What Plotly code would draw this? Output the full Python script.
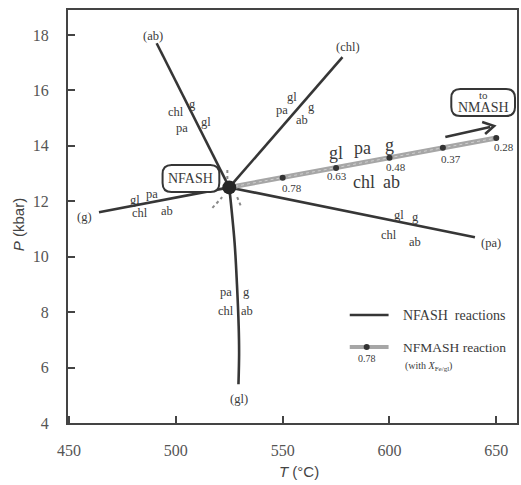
import plotly.graph_objects as go

# ---------------- data ----------------
inv_T, inv_P = 525.0, 12.5

ab_T = [525, 491];   ab_P = [12.5, 17.7]
chl_T = [525, 578];  chl_P = [12.5, 17.2]
g_T = [525, 464];    g_P = [12.5, 11.6]
pa_T = [525, 640];   pa_P = [12.5, 10.7]
gl_T = [525, 527.5, 528.6, 529.4, 529.6, 529.3]
gl_P = [12.5, 10.5, 9.0, 7.5, 6.5, 5.4]

nfmash_T = [525, 550, 575, 600, 625, 650]
nfmash_P = [12.5, 12.85, 13.2, 13.57, 13.93, 14.28]
x_fe = ["0.78", "0.63", "0.48", "0.37", "0.28"]

# metastable extensions around the invariant point
ext_up_T = [524.1, 524.1];  ext_up_P = [13.13, 12.72]
ext_ll_T = [517.1, 521.7];  ext_ll_P = [11.76, 12.15]
ext_lr_T = [528.7, 530.6];  ext_lr_P = [12.15, 11.79]

x_ticks = [450, 500, 550, 600, 650]
y_ticks = [4, 6, 8, 10, 12, 14, 16, 18]

# ---------------- layout helpers ----------------
W, H = 521, 485
L, R, T_, B = 68, 519, 10, 423
XR = [449.5, 659.7]
YR = [4.0, 18.9]

def to_data(px, py):
    return (XR[0] + (px - L) * (XR[1] - XR[0]) / (R - L),
            YR[0] + (B - py) * (YR[1] - YR[0]) / (B - T_))

def to_paper(px, py):
    return ((px - L) / (R - L), (B - py) / (B - T_))

LINE = "#363636"
TXT = "#3a3a3a"
SERIF = "Liberation Serif"
SANS = "Liberation Sans"

fig = go.Figure()

for xs, ys in [(ab_T, ab_P), (chl_T, chl_P), (g_T, g_P), (pa_T, pa_P)]:
    fig.add_trace(go.Scatter(x=xs, y=ys, mode="lines",
                             line=dict(color=LINE, width=2.6), showlegend=False,
                             hoverinfo="skip"))
fig.add_trace(go.Scatter(x=gl_T, y=gl_P, mode="lines",
                         line=dict(color=LINE, width=2.6, shape="spline"),
                         showlegend=False, hoverinfo="skip"))

for xs, ys in [(ext_up_T, ext_up_P), (ext_ll_T, ext_ll_P), (ext_lr_T, ext_lr_P)]:
    fig.add_trace(go.Scatter(x=xs, y=ys, mode="lines",
                             line=dict(color="#8a8a8a", width=2, dash="dot"),
                             showlegend=False, hoverinfo="skip"))

# NFMASH reaction
fig.add_trace(go.Scatter(x=nfmash_T, y=nfmash_P, mode="lines",
                         line=dict(color="#a6a6a6", width=5),
                         showlegend=False, hoverinfo="skip"))
fig.add_trace(go.Scatter(x=nfmash_T, y=nfmash_P, mode="lines",
                         line=dict(color="#d0d0d0", width=1, dash="dot"),
                         showlegend=False, hoverinfo="skip"))
fig.add_trace(go.Scatter(x=nfmash_T[1:], y=nfmash_P[1:], mode="markers",
                         marker=dict(color="#333333", size=6),
                         showlegend=False, hoverinfo="skip"))
# invariant point
fig.add_trace(go.Scatter(x=[inv_T], y=[inv_P], mode="markers",
                         marker=dict(color="#262626", size=14),
                         showlegend=False, hoverinfo="skip"))

ann = []
# X_Fe labels under the dots
shifts = [(9, -10), (1, -8), (7, -9), (8, -11), (8, -9)]
for t, p, lab, (dx, dy) in zip(nfmash_T[1:], nfmash_P[1:], x_fe, shifts):
    ann.append(dict(x=t, y=p, text=lab, showarrow=False, xshift=dx, yshift=dy,
                    font=dict(family=SERIF, size=11, color=TXT)))

# phase labels: (text, px, py, size)
labels = [
    ("(ab)", 153, 36, 12.5), ("chl", 176, 112, 12.5), ("g", 193, 104, 12.5),
    ("pa", 183, 128, 12.5), ("gl", 207, 122, 12.5),
    ("(g)", 85, 217, 12.5), ("gl", 135, 200, 12.5), ("pa", 152, 194, 12.5),
    ("chl", 140, 213, 12.5), ("ab", 167, 211, 12.5),
    ("(chl)", 349, 47, 12.5), ("gl", 293, 97, 12.5), ("pa", 283, 110, 12.5),
    ("g", 313, 107, 12.5), ("ab", 303, 120, 12.5),
    ("gl", 400, 215, 12.5), ("g", 417, 217, 12.5), ("chl", 390, 235, 12.5),
    ("ab", 417, 242, 12.5), ("(pa)", 493, 243, 12.5),
    ("pa", 227, 292, 12.5), ("g", 247, 292, 12.5), ("chl", 227, 311, 12.5),
    ("ab", 248, 311, 12.5), ("(gl)", 240, 399, 12.5),
    ("gl", 337, 153, 18), ("pa", 364, 148, 18), ("g", 391, 145, 18),
    ("chl", 365, 182, 18), ("ab", 393, 182, 18),
]
for text, px, py, sz in labels:
    xd, yd = to_data(px, py)
    ann.append(dict(x=xd, y=yd, text=text, showarrow=False,
                    font=dict(family=SERIF, size=sz, color=TXT)))

# boxes text
xd, yd = to_data(191, 178)
ann.append(dict(x=xd, y=yd, text="NFASH", showarrow=False,
                font=dict(family=SERIF, size=14, color=TXT)))
xd, yd = to_data(485, 95)
ann.append(dict(x=xd, y=yd, text="to", showarrow=False,
                font=dict(family=SERIF, size=11, color=TXT)))
xd, yd = to_data(485, 107)
ann.append(dict(x=xd, y=yd, text="NMASH", showarrow=False,
                font=dict(family=SERIF, size=14, color=TXT)))

# legend text
for text, px, py, sz in [("NFASH&nbsp;&nbsp;reactions", 402, 315, 14),
                         ("NFMASH reaction", 402, 347, 13.5),
                         ("(with <i>X</i><sub>Fe/gl</sub>)", 404, 366, 10)]:
    xp, yp = to_paper(px, py)
    ann.append(dict(x=xp, y=yp, xref="paper", yref="paper", xanchor="left",
                    yanchor="middle", text=text, showarrow=False,
                    font=dict(family=SERIF, size=sz, color=TXT)))
xp, yp = to_paper(368, 358)
ann.append(dict(x=xp, y=yp, xref="paper", yref="paper", text="0.78",
                xanchor="center", yanchor="middle",
                showarrow=False, font=dict(family=SERIF, size=10, color=TXT)))

# axis titles
xp, yp = to_paper(18, 225)
ann.append(dict(x=xp, y=yp, xref="paper", yref="paper", text="<i>P</i> (kbar)",
                textangle=-90, showarrow=False, xanchor="center", yanchor="middle",
                font=dict(family=SANS, size=15, color="#444")))
xp, yp = to_paper(300, 472)
ann.append(dict(x=xp, y=yp, xref="paper", yref="paper", text="<i>T</i> (°C)",
                showarrow=False, xanchor="center", yanchor="middle",
                font=dict(family=SANS, size=15, color="#444")))

# shapes: rounded boxes, arrow and legend samples
def rrect(x0, y0, x1, y1, r):
    def P(px, py):
        a, b = to_paper(px, py)
        return f"{a:.5f},{b:.5f}"
    return (f"M {P(x0+r, y0)} L {P(x1-r, y0)} Q {P(x1, y0)} {P(x1, y0+r)} "
            f"L {P(x1, y1-r)} Q {P(x1, y1)} {P(x1-r, y1)} "
            f"L {P(x0+r, y1)} Q {P(x0, y1)} {P(x0, y1-r)} "
            f"L {P(x0, y0+r)} Q {P(x0, y0)} {P(x0+r, y0)} Z")

def ppath(points):
    s = []
    for i, (px, py) in enumerate(points):
        a, b = to_paper(px, py)
        s.append(("M " if i == 0 else "L ") + f"{a:.5f},{b:.5f}")
    return " ".join(s)

shapes = [
    dict(type="path", xref="paper", yref="paper", path=rrect(163, 165, 220, 192, 9),
         line=dict(color=LINE, width=2), fillcolor="white"),
    dict(type="path", xref="paper", yref="paper", path=rrect(453, 89, 517, 116, 9),
         line=dict(color=LINE, width=2), fillcolor="white"),
    # arrow shaft and head
    dict(type="path", xref="paper", yref="paper", path=ppath([(447, 137), (492, 127)]),
         line=dict(color=LINE, width=2.6)),
    dict(type="path", xref="paper", yref="paper",
         path=ppath([(484, 122), (496, 126), (487, 134)]),
         line=dict(color=LINE, width=2.6)),
]
x0p, y0p = to_paper(351, 315)
x1p, _ = to_paper(390, 315)
shapes.append(dict(type="line", xref="paper", yref="paper", x0=x0p, x1=x1p,
                   y0=y0p, y1=y0p, line=dict(color=LINE, width=2.5)))
_, ygp = to_paper(351, 347)
shapes.append(dict(type="line", xref="paper", yref="paper", x0=x0p, x1=x1p,
                   y0=ygp, y1=ygp, line=dict(color="#a6a6a6", width=4)))
cx0, cy0 = to_paper(365, 344)
cx1, cy1 = to_paper(371, 350)
shapes.append(dict(type="circle", xref="paper", yref="paper", x0=cx0, x1=cx1,
                   y0=cy0, y1=cy1, fillcolor="#333", line=dict(width=0)))

fig.update_layout(
    width=W, height=H,
    margin=dict(l=L, r=W - R, t=T_, b=H - B),
    plot_bgcolor="white", paper_bgcolor="white",
    annotations=ann, shapes=shapes, showlegend=False,
    xaxis=dict(range=XR, tickvals=x_ticks, ticks="inside", ticklen=7, tickwidth=2,
               tickcolor="#444", showline=True, linecolor="#444", linewidth=2,
               mirror=True, showgrid=False, zeroline=False,
               tickfont=dict(family=SERIF, size=16, color="#555"),
               ticklabelstandoff=12),
    yaxis=dict(range=YR, tickvals=y_ticks, ticks="inside", ticklen=7, tickwidth=2,
               tickcolor="#444", showline=True, linecolor="#444", linewidth=2,
               mirror=True, showgrid=False, zeroline=False,
               tickfont=dict(family=SERIF, size=16, color="#555"),
               ticklabelstandoff=14),
)

fig.write_html("out.html", config={"displayModeBar": False},
               post_script="document.body.style.margin='0';")
